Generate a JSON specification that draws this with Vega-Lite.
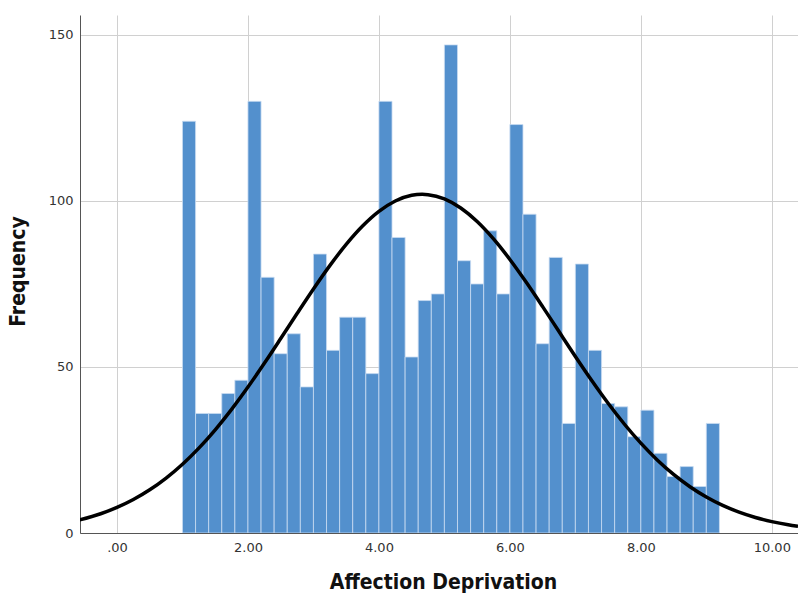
{
  "$schema": "https://vega.github.io/schema/vega-lite/v6.json",
  "autosize": {"type": "none"},
  "padding": {"left": 80, "top": 15, "right": 0, "bottom": 62},
  "width": 718,
  "height": 518,
  "background": "white",
  "config": {"view": {"stroke": null}},
  "datasets": {
    "bins": [
      {"bin_start": 1.0, "bin_end": 1.2, "count": 124},
      {"bin_start": 1.2, "bin_end": 1.4, "count": 36},
      {"bin_start": 1.4, "bin_end": 1.6, "count": 36},
      {"bin_start": 1.6, "bin_end": 1.8, "count": 42},
      {"bin_start": 1.8, "bin_end": 2.0, "count": 46},
      {"bin_start": 2.0, "bin_end": 2.2, "count": 130},
      {"bin_start": 2.2, "bin_end": 2.4, "count": 77},
      {"bin_start": 2.4, "bin_end": 2.6, "count": 54},
      {"bin_start": 2.6, "bin_end": 2.8, "count": 60},
      {"bin_start": 2.8, "bin_end": 3.0, "count": 44},
      {"bin_start": 3.0, "bin_end": 3.2, "count": 84},
      {"bin_start": 3.2, "bin_end": 3.4, "count": 55},
      {"bin_start": 3.4, "bin_end": 3.6, "count": 65},
      {"bin_start": 3.6, "bin_end": 3.8, "count": 65},
      {"bin_start": 3.8, "bin_end": 4.0, "count": 48},
      {"bin_start": 4.0, "bin_end": 4.2, "count": 130},
      {"bin_start": 4.2, "bin_end": 4.4, "count": 89},
      {"bin_start": 4.4, "bin_end": 4.6, "count": 53},
      {"bin_start": 4.6, "bin_end": 4.8, "count": 70},
      {"bin_start": 4.8, "bin_end": 5.0, "count": 72},
      {"bin_start": 5.0, "bin_end": 5.2, "count": 147},
      {"bin_start": 5.2, "bin_end": 5.4, "count": 82},
      {"bin_start": 5.4, "bin_end": 5.6, "count": 75},
      {"bin_start": 5.6, "bin_end": 5.8, "count": 91},
      {"bin_start": 5.8, "bin_end": 6.0, "count": 72},
      {"bin_start": 6.0, "bin_end": 6.2, "count": 123},
      {"bin_start": 6.2, "bin_end": 6.4, "count": 96},
      {"bin_start": 6.4, "bin_end": 6.6, "count": 57},
      {"bin_start": 6.6, "bin_end": 6.8, "count": 83},
      {"bin_start": 6.8, "bin_end": 7.0, "count": 33},
      {"bin_start": 7.0, "bin_end": 7.2, "count": 81},
      {"bin_start": 7.2, "bin_end": 7.4, "count": 55},
      {"bin_start": 7.4, "bin_end": 7.6, "count": 39},
      {"bin_start": 7.6, "bin_end": 7.8, "count": 38},
      {"bin_start": 7.8, "bin_end": 8.0, "count": 29},
      {"bin_start": 8.0, "bin_end": 8.2, "count": 37},
      {"bin_start": 8.2, "bin_end": 8.4, "count": 24},
      {"bin_start": 8.4, "bin_end": 8.6, "count": 17},
      {"bin_start": 8.6, "bin_end": 8.8, "count": 20},
      {"bin_start": 8.8, "bin_end": 9.0, "count": 14},
      {"bin_start": 9.0, "bin_end": 9.2, "count": 33}
    ],
    "curve": [
      {"x": -0.6, "y": 3.79},
      {"x": -0.25, "y": 5.79},
      {"x": 0.0, "y": 7.70},
      {"x": 0.25, "y": 10.08},
      {"x": 0.5, "y": 13.01},
      {"x": 0.75, "y": 16.55},
      {"x": 1.0, "y": 20.72},
      {"x": 1.25, "y": 25.57},
      {"x": 1.5, "y": 31.09},
      {"x": 1.75, "y": 37.24},
      {"x": 2.0, "y": 43.95},
      {"x": 2.25, "y": 51.11},
      {"x": 2.5, "y": 58.55},
      {"x": 2.75, "y": 66.09},
      {"x": 3.0, "y": 73.49},
      {"x": 3.25, "y": 80.52},
      {"x": 3.5, "y": 86.91},
      {"x": 3.75, "y": 92.43},
      {"x": 4.0, "y": 96.85},
      {"x": 4.25, "y": 99.98},
      {"x": 4.5, "y": 101.69},
      {"x": 4.66, "y": 102.0},
      {"x": 4.75, "y": 101.9},
      {"x": 5.0, "y": 100.61},
      {"x": 5.25, "y": 97.86},
      {"x": 5.5, "y": 93.79},
      {"x": 5.75, "y": 88.55},
      {"x": 6.0, "y": 82.38},
      {"x": 6.25, "y": 75.50},
      {"x": 6.5, "y": 68.18},
      {"x": 6.75, "y": 60.66},
      {"x": 7.0, "y": 53.17},
      {"x": 7.25, "y": 45.92},
      {"x": 7.5, "y": 39.07},
      {"x": 7.75, "y": 32.75},
      {"x": 8.0, "y": 27.05},
      {"x": 8.25, "y": 22.01},
      {"x": 8.5, "y": 17.64},
      {"x": 8.75, "y": 13.94},
      {"x": 9.0, "y": 10.85},
      {"x": 9.25, "y": 8.32},
      {"x": 9.5, "y": 6.28},
      {"x": 9.75, "y": 4.68},
      {"x": 10.0, "y": 3.43},
      {"x": 10.25, "y": 2.48},
      {"x": 10.4, "y": 2.02}
    ]
  },
  "layer": [
    {
      "data": {"name": "bins"},
      "mark": {"type": "rect", "color": "#5390cd", "stroke": "#c9dcf1", "strokeWidth": 0.8, "clip": true},
      "encoding": {
        "x": {
          "field": "bin_start", "type": "quantitative",
          "scale": {"domain": [-0.565, 10.4], "nice": false, "zero": false},
          "axis": {
            "values": [0, 2, 4, 6, 8, 10],
            "labelExpr": "datum.value == 0 ? '.00' : format(datum.value, '.2f')",
            "title": "Affection Deprivation",
            "titleFont": "Liberation Sans Narrow, DejaVu Sans Condensed, sans-serif",
            "titleFontSize": 21,
            "titleFontWeight": "bold",
            "titleColor": "#111111",
            "titleX": 363,
            "titleY": 49,
            "titleAlign": "center",
            "titleBaseline": "middle",
            "labelFont": "DejaVu Sans",
            "labelFontSize": 13,
            "labelColor": "#333333",
            "labelPadding": 8,
            "ticks": false,
            "grid": true,
            "gridColor": "#d0d0d0",
            "gridWidth": 1,
            "domainColor": "#555555",
            "domainWidth": 1
          }
        },
        "x2": {"field": "bin_end"},
        "y": {
          "field": "count", "type": "quantitative",
          "scale": {"domain": [0, 156], "nice": false},
          "axis": {
            "values": [0, 50, 100, 150],
            "title": "Frequency",
            "titleFont": "Liberation Sans Narrow, DejaVu Sans Condensed, sans-serif",
            "titleFontSize": 21,
            "titleFontWeight": "bold",
            "titleColor": "#111111",
            "titleX": -62,
            "titleY": 256,
            "titleAngle": -90,
            "titleAlign": "center",
            "titleBaseline": "middle",
            "labelFont": "DejaVu Sans",
            "labelFontSize": 13,
            "labelColor": "#333333",
            "labelPadding": 7,
            "ticks": false,
            "grid": true,
            "gridColor": "#d0d0d0",
            "gridWidth": 1,
            "domainColor": "#555555",
            "domainWidth": 1
          }
        },
        "y2": {"datum": 0}
      }
    },
    {
      "data": {"name": "curve"},
      "mark": {"type": "line", "color": "#000000", "strokeWidth": 3.5, "interpolate": "monotone", "clip": true},
      "encoding": {
        "x": {"field": "x", "type": "quantitative"},
        "y": {"field": "y", "type": "quantitative"}
      }
    }
  ]
}
